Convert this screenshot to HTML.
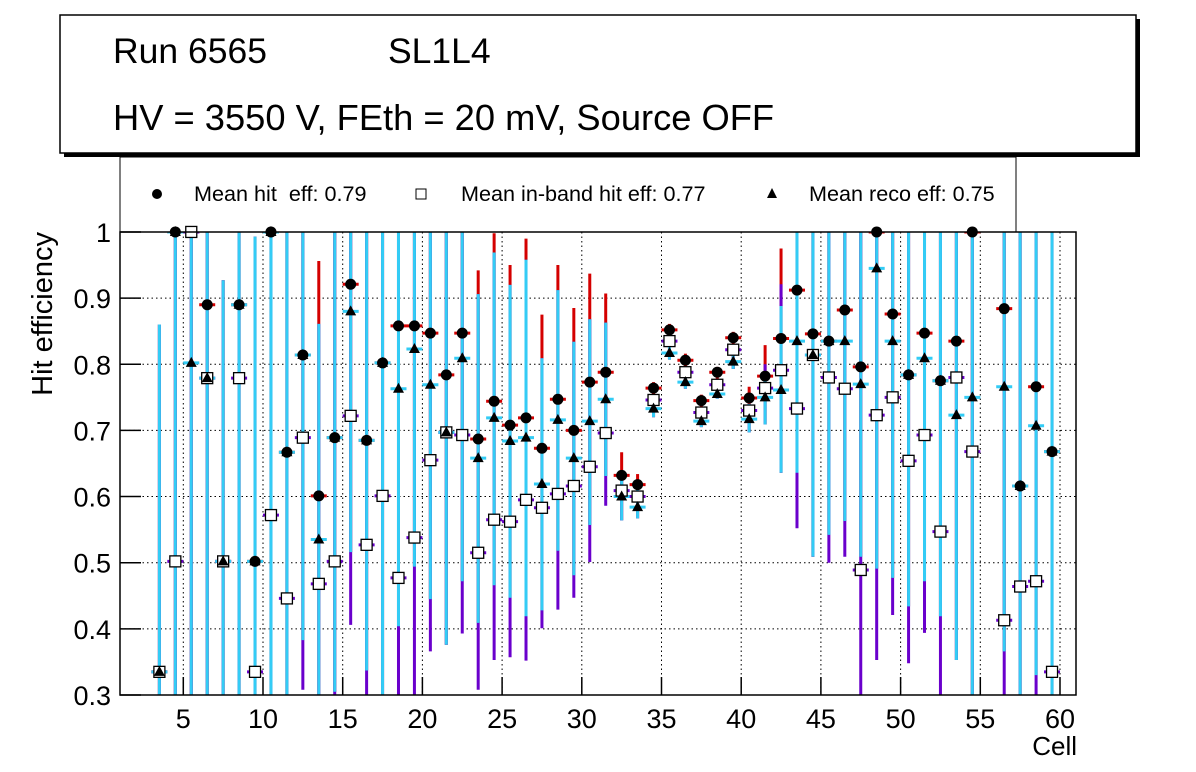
<!DOCTYPE html>
<html><head><meta charset="utf-8"><style>
html,body{margin:0;padding:0;background:#fff;}
svg{display:block;font-family:"Liberation Sans",sans-serif;}
</style></head><body>
<svg id="chart" width="1196" height="772" viewBox="0 0 1196 772">
<rect x="0" y="0" width="1196" height="772" fill="#fff"/>
<g>
<rect x="64" y="19" width="1076" height="138" fill="#000"/>
<rect x="60" y="15" width="1076" height="138" fill="#fff" stroke="#000" stroke-width="1.5"/>
<text x="113" y="63" font-size="35.5">Run 6565</text>
<text x="388" y="63" font-size="35.5">SL1L4</text>
<text x="113" y="130" font-size="36.3">HV = 3550 V, FEth = 20 mV, Source OFF</text>
</g>
<g>
<rect x="120" y="157" width="896" height="75" fill="#fff" stroke="#000" stroke-width="1"/>
<circle cx="157" cy="194" r="5" fill="#000"/>
<text x="194" y="201" font-size="21.6" style="white-space:pre">Mean hit  eff: 0.79</text>
<rect x="416" y="189" width="10" height="10" fill="#fff" stroke="#000"/>
<text x="461" y="201" font-size="21.6">Mean in-band hit eff: 0.77</text>
<path d="M772 188 L777 198 L767 198 Z" fill="#000"/>
<text x="809" y="201" font-size="21.6">Mean reco eff: 0.75</text>
</g>
<defs><clipPath id="pc"><rect x="120" y="232" width="956" height="463"/></clipPath></defs>
<g id="grid"></g>
<g id="bars" clip-path="url(#pc)"></g>
<g id="marks"></g>
<rect x="120" y="232" width="956" height="463" fill="none" stroke="#000" stroke-width="1.5"/>
<g id="axes"></g>
<text x="1077" y="755" font-size="26" text-anchor="end">Cell</text>
<text transform="translate(52,232) rotate(-90)" font-size="29" text-anchor="end">Hit efficiency</text>
</svg>
<script>
const cells=[3.5,4.5,5.5,6.5,7.5,8.5,9.5,10.5,11.5,12.5,13.5,14.5,15.5,16.5,17.5,18.5,19.5,20.5,21.5,22.5,23.5,24.5,25.5,26.5,27.5,28.5,29.5,30.5,31.5,32.5,33.5,34.5,35.5,36.5,37.5,38.5,39.5,40.5,41.5,42.5,43.5,44.5,45.5,46.5,47.5,48.5,49.5,50.5,51.5,52.5,53.5,54.5,56.5,57.5,58.5,59.5];
const hitEff=[.335,1,1,.890,.502,.890,.502,1,.667,.814,.601,.689,.921,.685,.802,.858,.858,.847,.784,.847,.687,.744,.708,.719,.673,.747,.700,.773,.788,.632,.618,.764,.852,.806,.745,.788,.840,.749,.782,.839,.912,.846,.835,.882,.796,1,.876,.784,.847,.775,.835,1,.884,.616,.766,.668];
const inbandEff=[.335,.502,1,.779,.502,.779,.335,.572,.446,.689,.468,.502,.722,.527,.601,.477,.538,.655,.697,.693,.515,.565,.562,.595,.583,.604,.616,.645,.696,.609,.600,.746,.835,.788,.727,.769,.822,.730,.764,.791,.733,.814,.780,.763,.489,.723,.750,.654,.693,.547,.780,.668,.413,.464,.472,.335];
const recoEff=[.335,1,.802,.779,.502,.890,.502,1,.667,.814,.535,.689,.880,.685,.802,.763,.823,.769,.697,.809,.658,.719,.684,.689,.619,.716,.658,.714,.747,.600,.584,.733,.817,.773,.714,.755,.804,.717,.750,.761,.835,.814,.835,.835,.770,.945,.835,.784,.809,.775,.723,.75,.766,.616,.707,.668];
const hitErrHi=[.86,1,1,1,.927,1,.993,1,1,1,.956,1,1,1,1,1,1,1,1,1,.942,.998,.950,.990,.875,.950,.885,.937,.907,.667,.634,.773,.861,.816,.754,.796,.849,.766,.829,.975,1,1,1,1,1,1,1,1,1,1,1,1,1,1,1,1];
const inbandErrHi=[.86,1,1,1,.927,1,.993,1,1,1,.861,1,1,1,1,1,1,1,1,1,.906,.969,.920,.958,.809,.912,.834,.868,.863,.625,.610,.755,.842,.797,.735,.778,.830,.740,.80,.921,1,1,1,1,1,1,1,1,1,1,1,1,1,1,1,1];
const recoErrHi=[.86,1,1,1,.927,1,.993,1,1,1,.861,1,1,1,1,1,1,1,1,1,.906,.969,.920,.958,.809,.912,.834,.868,.863,.625,.610,.755,.842,.797,.735,.778,.830,.740,.79,.888,1,1,1,1,1,1,1,1,1,1,1,1,1,1,1,1];
const recoErrLo=[.3,.3,.3,.3,.3,.3,.3,.3,.3,.383,.3,.305,.516,.337,.3,.404,.494,.445,.376,.472,.409,.466,.447,.419,.428,.518,.481,.557,.631,.564,.567,.720,.807,.763,.705,.748,.793,.697,.709,.636,.636,.509,.542,.563,.509,.491,.477,.434,.472,.419,.353,.3,.366,.3,.33,.3];
const inbandErrLo=[.3,.3,.3,.3,.3,.3,.3,.3,.3,.308,.3,.3,.406,.3,.3,.3,.3,.366,.376,.393,.308,.353,.357,.352,.401,.429,.447,.501,.586,.564,.567,.720,.807,.763,.705,.748,.793,.697,.709,.636,.552,.509,.5,.509,.3,.353,.421,.348,.394,.3,.353,.3,.3,.3,.3,.3];
const xTicks=[5,10,15,20,25,30,35,40,45,50,55,60];
const yTicks=[0.3,0.4,0.5,0.6,0.7,0.8,0.9,1];
const yTickLabels=["0.3","0.4","0.5","0.6","0.7","0.8","0.9","1"];

const NS="http://www.w3.org/2000/svg";
const X=c=>183.3+(c-5)*15.94;
const Y=v=>695-(v-0.3)*661.5;
function mk(tag,attrs,parent){const e=document.createElementNS(NS,tag);for(const k in attrs)e.setAttribute(k,attrs[k]);parent.appendChild(e);return e;}
const grid=document.getElementById('grid'),bars=document.getElementById('bars'),marks=document.getElementById('marks'),axes=document.getElementById('axes');
xTicks.forEach(t=>{
  const g=mk('line',{x1:X(t),x2:X(t),y1:232,y2:695,stroke:'#000','stroke-width':1,'stroke-dasharray':'1.5,3'},grid);
  
  
  const tk=mk('line',{x1:X(t),x2:X(t),y1:677,y2:695,stroke:'#000','stroke-width':1.5},axes);
  
  
  const lb=mk('text',{x:X(t),y:728,'font-size':27,'text-anchor':'middle'},axes);
  lb.textContent=String(t);
  
  
});
yTicks.forEach((t,i)=>{
  const g=mk('line',{x1:120,x2:1076,y1:Y(t),y2:Y(t),stroke:'#000','stroke-width':1,'stroke-dasharray':'1.5,3'},grid);
  
  
  const tk=mk('line',{x1:120,x2:141,y1:Y(t),y2:Y(t),stroke:'#000','stroke-width':1.5},axes);
  
  
  const lb=mk('text',{x:111,y:Y(t)+10,'font-size':27,'text-anchor':'end'},axes);
  lb.textContent=yTickLabels[i];
  
  
});
function vbar(c,lo,hi,col){const l=mk('line',{x1:X(c),x2:X(c),y1:Y(hi),y2:Y(lo),stroke:col,'stroke-width':3},bars);}
function hbar(c,v,col){const l=mk('line',{x1:X(c)-8,x2:X(c)+8,y1:Y(v),y2:Y(v),stroke:col,'stroke-width':3},bars);}
const RED='#d40000',PUR='#6a00cc',CY='#33ccf5';
cells.forEach((c,i)=>{vbar(c,recoErrLo[i],hitErrHi[i],RED);hbar(c,hitEff[i],RED);});
cells.forEach((c,i)=>{vbar(c,inbandErrLo[i],inbandErrHi[i],PUR);hbar(c,inbandEff[i],PUR);});
cells.forEach((c,i)=>{vbar(c,recoErrLo[i],recoErrHi[i],CY);hbar(c,recoEff[i],CY);});
cells.forEach((c,i)=>{
  const p=mk('circle',{cx:X(c),cy:Y(hitEff[i]),r:5.5,fill:'#000'},marks);
  
  
});
cells.forEach((c,i)=>{
  const p=mk('rect',{x:X(c)-5.5,y:Y(inbandEff[i])-5.5,width:11,height:11,fill:'#fff',stroke:'#000','stroke-width':1.3},marks);
  
  
});
cells.forEach((c,i)=>{
  const x=X(c),y=Y(recoEff[i]);
  const p=mk('path',{d:`M${x} ${y-6} L${x+5.5} ${y+4} L${x-5.5} ${y+4} Z`,fill:'#000'},marks);
  
  
});
</script>
</body></html>
